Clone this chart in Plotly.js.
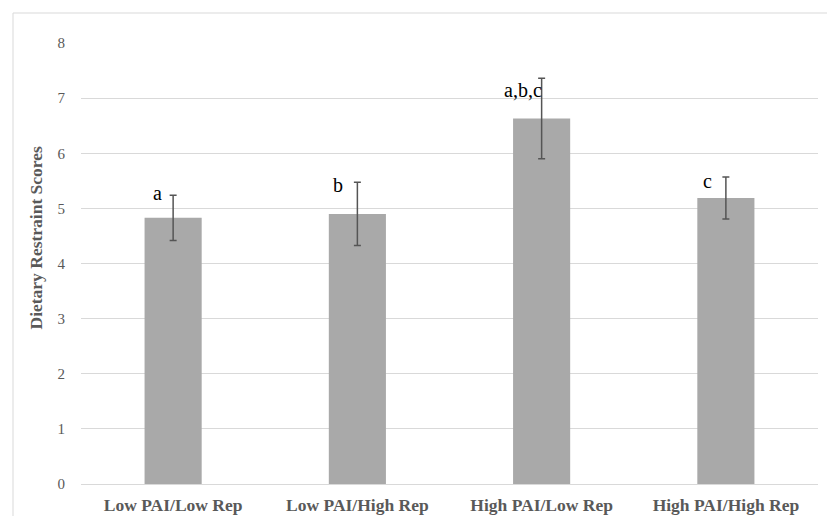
<!DOCTYPE html>
<html>
<head>
<meta charset="utf-8">
<script src="https://cdn.plot.ly/plotly-3.0.1.min.js"></script>
<style>
  html, body { margin: 0; padding: 0; background: #fff; }
  #chart { width: 827px; height: 516px; }
</style>
</head>
<body>
<div id="chart"></div>
<script>
// Data
const categories = ["Low PAI/Low Rep", "Low PAI/High Rep", "High PAI/Low Rep", "High PAI/High Rep"];
const scores = [4.83, 4.90, 6.63, 5.19];
const errors = [0.41, 0.575, 0.73, 0.38];
const letters = ["a", "b", "a,b,c", "c"];
const yTicks = [0, 1, 2, 3, 4, 5, 6, 7, 8];
const yTitle = "Dietary Restraint Scores";

// Label offsets (layout only)
const letterXShift = [-16, -19, -19, -18];
const letterYShift = [2, -3, -12, -4];

const serif = "Liberation Serif, Times New Roman, serif";

const trace = {
  type: "bar",
  x: categories,
  y: scores,
  width: 0.31,
  marker: { color: "#a9a9a9" },
  error_y: {
    type: "data",
    array: errors,
    visible: true,
    color: "#555555",
    thickness: 1.5,
    width: 3.5
  },
  hoverinfo: "none"
};

const plotW = 737, plotH = 441;
const frameX = (13 - 81) / plotW;
const frameY = (484 - 13) / plotH;

const annotations = categories.map((c, i) => ({
  x: c,
  y: scores[i] + errors[i],
  xref: "x",
  yref: "y",
  text: letters[i],
  showarrow: false,
  xanchor: "center",
  yanchor: "middle",
  xshift: letterXShift[i],
  yshift: letterYShift[i],
  font: { family: serif, size: 20, color: "#000000" }
}));

annotations.push({
  xref: "paper",
  yref: "paper",
  x: (35 - 81) / plotW,
  y: (484 - 237.5) / plotH,
  xanchor: "center",
  yanchor: "middle",
  textangle: -90,
  showarrow: false,
  text: "<b>" + yTitle + "</b>",
  font: { family: serif, size: 17.5, color: "#595959" }
});

const layout = {
  width: 827,
  height: 516,
  margin: { l: 81, r: 9, t: 43, b: 32, pad: 0 },
  paper_bgcolor: "#ffffff",
  plot_bgcolor: "#ffffff",
  showlegend: false,
  xaxis: {
    type: "category",
    tickvals: categories,
    ticktext: categories,
    showgrid: false,
    showline: false,
    zeroline: false,
    ticks: "outside",
    ticklen: 5,
    tickcolor: "rgba(0,0,0,0)",
    tickfont: { family: serif, size: 17.5, color: "#595959", weight: "bold" }
  },
  yaxis: {
    range: [0, 8.001],
    tickvals: yTicks,
    ticktext: yTicks.map(String),
    showgrid: true,
    gridcolor: "#d9d9d9",
    gridwidth: 1,
    zeroline: true,
    zerolinecolor: "#d9d9d9",
    zerolinewidth: 1,
    showline: false,
    ticks: "outside",
    ticklen: 12,
    tickcolor: "rgba(0,0,0,0)",
    tickfont: { family: serif, size: 15, color: "#595959" }
  },
  annotations: annotations,
  shapes: [
    { type: "line", xref: "paper", yref: "paper", x0: frameX, x1: frameX, y0: -0.1, y1: frameY,
      line: { color: "#d9d9d9", width: 1 } },
    { type: "line", xref: "paper", yref: "paper", x0: frameX, x1: 1.02, y0: frameY, y1: frameY,
      line: { color: "#d9d9d9", width: 1 } }
  ]
};

Plotly.newPlot("chart", [trace], layout, { displayModeBar: false, staticPlot: true });
</script>
</body>
</html>
